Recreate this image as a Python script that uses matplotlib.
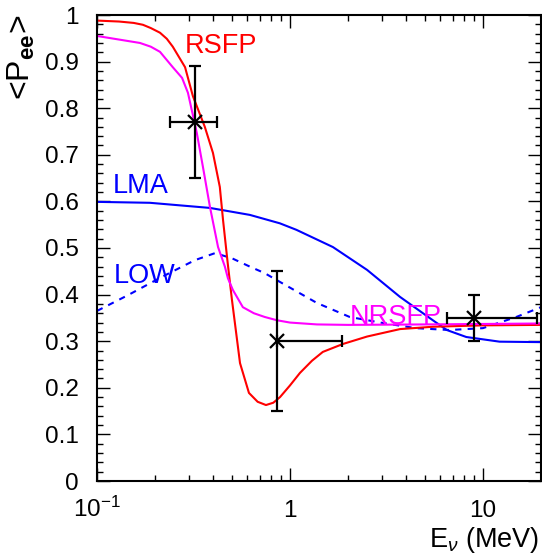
import matplotlib
matplotlib.use("Agg")
import matplotlib.pyplot as plt
from matplotlib.ticker import FixedLocator, NullFormatter

plt.rcParams['font.family'] = ['Liberation Sans', 'DejaVu Sans']
plt.rcParams['mathtext.fontset'] = 'custom'
plt.rcParams['mathtext.rm'] = 'Liberation Sans'
plt.rcParams['mathtext.it'] = 'Liberation Sans:italic'
plt.rcParams['mathtext.bf'] = 'Liberation Sans:bold'

# ---------------- data ----------------
rsfp_E = [0.1, 0.13, 0.155, 0.173, 0.19, 0.212, 0.23, 0.247, 0.286, 0.314, 0.362, 0.399,
          0.433, 0.45, 0.475, 0.5, 0.551, 0.613, 0.68, 0.751, 0.82, 0.888, 1.0, 1.127,
          1.3, 1.48, 1.88, 2.51, 3.72, 5.5, 10, 20]
rsfp_P = [0.988, 0.986, 0.983, 0.979, 0.972, 0.962, 0.949, 0.932, 0.888, 0.826, 0.760,
          0.704, 0.631, 0.56, 0.47, 0.39, 0.253, 0.189, 0.17, 0.163, 0.168, 0.18, 0.205,
          0.232, 0.258, 0.277, 0.294, 0.310, 0.326, 0.331, 0.334, 0.335]

nrsfp_E = [0.1, 0.167, 0.19, 0.212, 0.247, 0.276, 0.296, 0.329, 0.354, 0.385, 0.424, 0.46,
           0.477, 0.506, 0.57, 0.65, 0.74, 0.855, 1.0, 1.38, 2.0, 5.0, 10, 20]
nrsfp_P = [0.955, 0.940, 0.932, 0.921, 0.888, 0.865, 0.833, 0.747, 0.674, 0.588, 0.502,
           0.46, 0.435, 0.41, 0.373, 0.36, 0.352, 0.345, 0.34, 0.336, 0.335, 0.336,
           0.337, 0.338]

lma_E = [0.1, 0.188, 0.385, 0.62, 0.886, 1.08, 1.67, 2.51, 3.72, 5.5, 6.5, 8.2, 12.2, 20]
lma_P = [0.599, 0.597, 0.586, 0.571, 0.553, 0.539, 0.502, 0.453, 0.395, 0.345, 0.324,
         0.309, 0.299, 0.298]

low_E = [0.1, 0.145, 0.217, 0.322, 0.409, 0.5, 0.62, 0.74, 0.855, 1.38, 2.04, 3.03,
         4.5, 6.7, 10, 14.9, 20]
low_P = [0.365, 0.399, 0.438, 0.474, 0.489, 0.478, 0.460, 0.446, 0.431, 0.382, 0.352,
         0.339, 0.328, 0.324, 0.328, 0.352, 0.373]

data_E = [0.322, 0.855, 8.97]
data_P = [0.77, 0.30, 0.35]
data_Elo = [0.24, 0.855, 6.5]
data_Ehi = [0.42, 1.87, 19.0]
data_Plo = [0.65, 0.15, 0.30]
data_Phi = [0.89, 0.45, 0.40]

xtick_vals = [0.1, 1, 10]
xtick_labels = [r'$10^{-1}$', '1', '10']
ytick_vals = [0, 0.1, 0.2, 0.3, 0.4, 0.5, 0.6, 0.7, 0.8, 0.9, 1.0]
ytick_labels = ['0', '0.1', '0.2', '0.3', '0.4', '0.5', '0.6', '0.7', '0.8', '0.9', '1']

# ---------------- figure ----------------
W, H = 542, 558
fig = plt.figure(figsize=(W / 100, H / 100), dpi=100)
ax = fig.add_axes([97 / W, 1 - 481 / H, 444 / W, 466 / H])

ax.set_xscale('log')
ax.set_xlim(0.1, 20)
ax.set_ylim(0, 1)

lw = 1.5
ax.plot(lma_E, lma_P, color='#0000ff', lw=lw)
ax.plot(low_E, low_P, color='#0000ff', lw=lw, dashes=(3, 3))
ax.plot(rsfp_E, rsfp_P, color='#ff0000', lw=lw)
ax.plot(nrsfp_E, nrsfp_P, color='#ff00ff', lw=lw)

xerr = [[e - lo for e, lo in zip(data_E, data_Elo)], [hi - e for e, hi in zip(data_E, data_Ehi)]]
yerr = [[p - lo for p, lo in zip(data_P, data_Plo)], [hi - p for p, hi in zip(data_P, data_Phi)]]
ax.errorbar(data_E, data_P, xerr=xerr, yerr=yerr, fmt='x', color='black',
            ms=10, mew=1.6, elinewidth=1.6, capsize=4.6, capthick=1.6, zorder=5)

# labels on curves
fs_lab = 19.5
ax.text(0.286, 0.918, 'RSFP', color='#ff0000', fontsize=fs_lab, va='baseline', ha='left')
ax.text(0.121, 0.618, 'LMA', color='#0000ff', fontsize=fs_lab, va='baseline', ha='left')
ax.text(0.122, 0.425, 'LOW', color='#0000ff', fontsize=fs_lab, va='baseline', ha='left')
ax.text(2.05, 0.337, 'NRSFP', color='#ff00ff', fontsize=fs_lab, va='baseline', ha='left')

# ticks
ax.xaxis.set_major_locator(FixedLocator(xtick_vals))
ax.set_xticklabels(xtick_labels)
minors = [m * d for d in (0.1, 1, 10) for m in range(2, 10) if m * d <= 20] + [20]
ax.xaxis.set_minor_locator(FixedLocator(minors))
ax.xaxis.set_minor_formatter(NullFormatter())
ax.set_yticks(ytick_vals)
ax.set_yticklabels(ytick_labels)
ax.yaxis.set_minor_locator(FixedLocator([i * 0.02 for i in range(51)]))

ax.tick_params(which='both', direction='in', top=True, right=True, width=1.0, color='black')
ax.tick_params(which='major', length=9.5)
ax.tick_params(which='minor', length=4.5)
ax.tick_params(axis='x', which='major', labelsize=17.5, pad=26)
ax.tick_params(axis='y', which='major', labelsize=17.5, pad=13)
for lab in ax.get_xticklabels():
    lab.set_va('baseline')

for s in ax.spines.values():
    s.set_linewidth(1.5)

# axis titles
fig.text(539 / W, 1 - 547 / H, r'E$_{\nu}$ (MeV)', fontsize=19.5, ha='right', va='baseline')
fig.text(21 / W, 1 - 15 / H, r'<P$_{\mathbf{ee}}$>', fontsize=23, rotation=90,
         ha='center', va='top')

fig.savefig('out.png', dpi=100)
